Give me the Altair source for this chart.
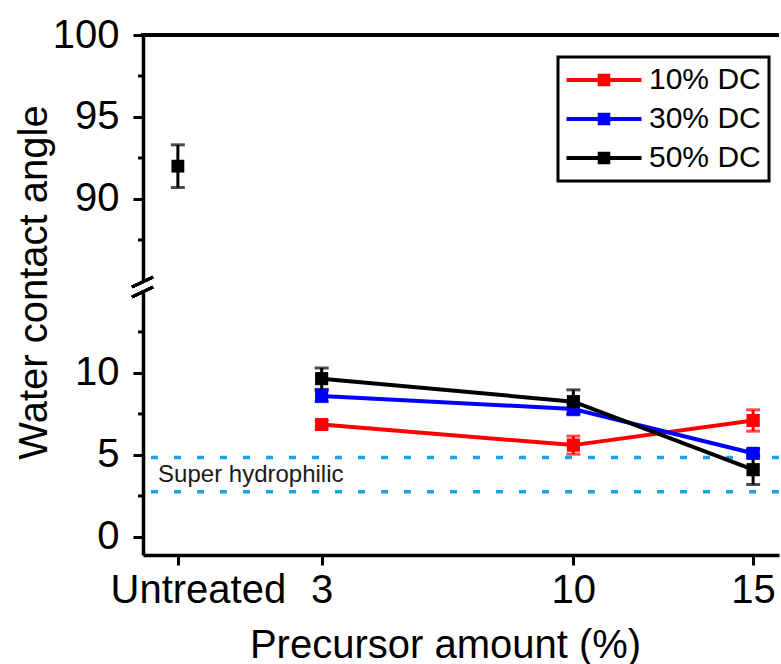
import altair as alt
import pandas as pd

# ---- data ----
series = ["10% DC", "30% DC", "50% DC"]
colors = ["#ff0000", "#0000ff", "#000000"]
precursor = [3, 10, 15]
mean_10 = [6.85, 5.6, 7.1]
err_10 = [0.25, 0.55, 0.65]
mean_30 = [8.6, 7.8, 5.1]
err_30 = [0.35, 0.35, 0.25]
mean_50 = [9.65, 8.25, 4.1]
err_50 = [0.65, 0.72, 0.9]

untreated_x = [-1]
untreated_mean = [92.0]
untreated_err = [1.3]

band_lines = [4.85, 2.75]
band_label = ["Super hydrophilic"]
band_label_pos = [(-1.55, 3.35)]

y_ticks = [0, 5, 10, 90, 95, 100]
y_minor = [2.5, 7.5, 12.5, 87.5, 92.5, 97.5]
x_ticks = [-1, 3, 10, 15]
x_label_untreated = "Untreated"

FONT = "Liberation Sans"

rows = []
for s, m, e in zip(series, [mean_10, mean_30, mean_50], [err_10, err_30, err_50]):
    for x, mv, ev in zip(precursor, m, e):
        rows.append({"series": s, "x": x, "y": mv, "lo": mv - ev, "hi": mv + ev})
df = pd.DataFrame(rows)

df_un = pd.DataFrame({"x": untreated_x, "y": untreated_mean,
                      "lo": [m - e for m, e in zip(untreated_mean, untreated_err)],
                      "hi": [m + e for m, e in zip(untreated_mean, untreated_err)]})
df_band = pd.DataFrame({"v": band_lines})
df_text = pd.DataFrame({"x": [p[0] for p in band_label_pos], "y": [p[1] for p in band_label_pos],
                        "t": band_label})
df_minor = pd.DataFrame({"m": y_minor})

W, H = 636, 520
# broken (piecewise) y scale: lower part -1.1..15.24, upper part 84.63..100
yscale = alt.Scale(domain=[-1.1, 15.24, 84.63, 100], range=[H, 252, 252, 0], zero=False, nice=False)
xscale = alt.Scale(domain=[-1.97, 15.72], zero=False, nice=False)
cscale = alt.Scale(domain=series, range=colors)

xaxis = alt.Axis(
    values=x_ticks,
    labelExpr=f"datum.value == -1 ? '{x_label_untreated}' : datum.label",
    labelFontSize=40, labelFont=FONT, labelColor="black",
    labelBaseline="alphabetic", labelPadding=37,
    labelOffset={"condition": {"test": "datum.value == -1", "value": 20}, "value": 0},
    labelFlush=False, labelOverlap=False,
    tickSize=10, tickWidth=3, tickColor="black",
    domainWidth=3.5, domainColor="black", grid=False,
    title="Precursor amount (%)", titleFontSize=40, titleFont=FONT, titleFontWeight="normal",
    titleColor="black", titleX=302, titleY=102, titleBaseline="alphabetic", titleAlign="center",
)
yaxis = alt.Axis(
    values=y_ticks,
    labelFontSize=40, labelFont=FONT, labelColor="black", labelPadding=14,
    labelOverlap=False, labelFlush=False,
    tickSize=10, tickWidth=3, tickColor="black",
    domainWidth=3.5, domainColor="black", grid=False,
    title="Water contact angle", titleFontSize=40, titleFont=FONT, titleFontWeight="normal",
    titleColor="black", titleX=-97, titleY=247, titleAngle=270, titleBaseline="alphabetic",
    titleAlign="center",
)

legend_path = "M-6.25,-0.33H6.25V0.33H-6.25Z M-1.05,-1.05H1.05V1.05H-1.05Z"
legend = alt.Legend(
    title=None, orient="none", legendX=415, legendY=22,
    symbolType=legend_path, symbolSize=144, symbolStrokeWidth=0, symbolOpacity=1,
    symbolOffset=23, labelOffset=30,
    labelFontSize=30, labelFont=FONT, labelColor="black",
    padding=8, rowPadding=9, strokeColor="black", fillColor="white",
)

X = alt.X("x:Q", scale=xscale, axis=xaxis)
Y = alt.Y("y:Q", scale=yscale, axis=yaxis)
C = alt.Color("series:N", scale=cscale, legend=legend)

base = alt.Chart(df)

band = alt.Chart(df_band).mark_rule(color="#1aa3e8", strokeWidth=3.5, strokeDash=[7, 16]).encode(
    y=alt.Y("v:Q", scale=yscale, axis=yaxis)
)
label = alt.Chart(df_text).mark_text(align="left", baseline="alphabetic", fontSize=24, font=FONT,
                                      color="#1a1a1a").encode(x=X, y=Y, text="t:N")

squares = base.mark_square(size=165, opacity=1, filled=True).encode(x=X, y=Y, color=C)
lines = base.mark_line(strokeWidth=4).encode(x=X, y=Y, color=C)
errs = base.mark_errorbar(ticks=True, size=14, thickness=3).encode(
    x=X, y=alt.Y("lo:Q", scale=yscale, axis=yaxis), y2="hi:Q", color=C,
)
squares_top = base.mark_square(size=165, opacity=1, filled=True).encode(x=X, y=Y, color=C)

un_err = alt.Chart(df_un).mark_errorbar(ticks=True, size=14, thickness=3, color="black").encode(
    x=X, y=alt.Y("lo:Q", scale=yscale, axis=yaxis), y2="hi:Q"
)
un_pt = alt.Chart(df_un).mark_square(size=165, opacity=1, filled=True, color="black").encode(x=X, y=Y)

minor = alt.Chart(df_minor).mark_rule(color="black", strokeWidth=3).encode(
    y=alt.Y("m:Q", scale=yscale, axis=yaxis), x=alt.value(-5), x2=alt.value(0)
)
top_line = alt.Chart(df_minor).mark_rule(color="black", strokeWidth=3.5).encode(
    y=alt.value(0), x=alt.value(-1.75), x2=alt.value(W)
)
gap = alt.Chart(df_minor).mark_rule(color="white", strokeWidth=6).encode(
    x=alt.value(0), y=alt.value(245), y2=alt.value(255)
)
brk1 = alt.Chart(df_minor).mark_rule(color="black", strokeWidth=3).encode(
    x=alt.value(-11), x2=alt.value(10), y=alt.value(252), y2=alt.value(242)
)
brk2 = alt.Chart(df_minor).mark_rule(color="black", strokeWidth=3).encode(
    x=alt.value(-11), x2=alt.value(10), y=alt.value(262), y2=alt.value(252)
)

chart = alt.layer(
    squares, band, label, lines, errs, squares_top, un_err, un_pt, minor, top_line, gap, brk1, brk2
).properties(
    width=W, height=H,
    autosize=alt.AutoSizeParams(type="none"),
    padding={"left": 143, "top": 35, "right": 2, "bottom": 109},
).configure_view(stroke=None).configure_legend(strokeWidth=3)

chart.save("out.html", embed_options={"renderer": "svg", "actions": False})
